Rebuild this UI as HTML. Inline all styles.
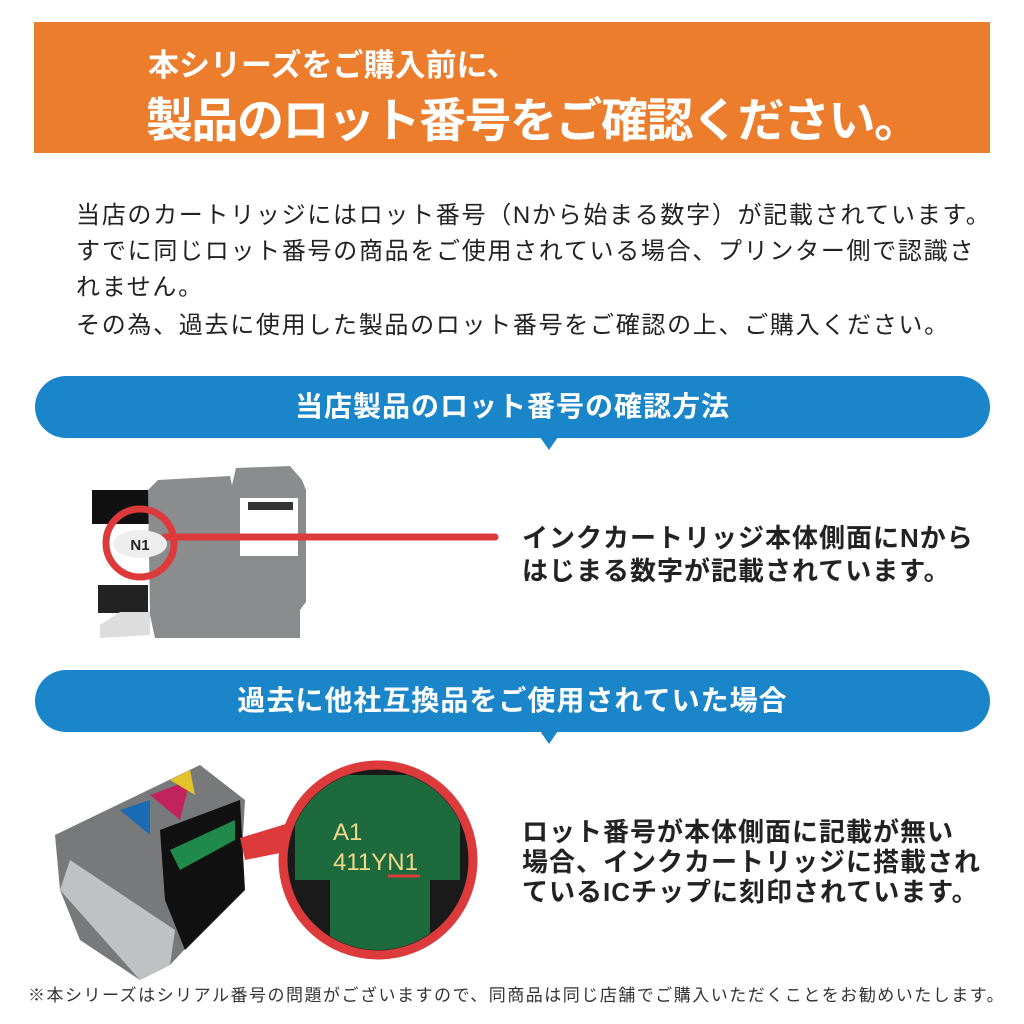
<!DOCTYPE html>
<html><head><meta charset="utf-8"><style>
body{margin:0;width:1024px;height:1024px;background:#fff;position:relative;overflow:hidden;font-family:"Liberation Sans","Noto Sans CJK JP",sans-serif;}
.a{position:absolute;white-space:nowrap;}
.pill{position:absolute;left:35px;width:955px;height:62px;background:#1a85c9;border-radius:31px;color:#fff;font-weight:bold;font-size:28px;text-align:center;line-height:62px;letter-spacing:1px;}
.pill:after{content:"";position:absolute;left:505px;bottom:-12px;border-left:9px solid transparent;border-right:9px solid transparent;border-top:13px solid #1a85c9;}
.body{font-size:24px;color:#222;letter-spacing:1.7px;}
.rt{font-size:26px;font-weight:bold;color:#222;letter-spacing:1px;}
</style></head><body>
<div class="a" style="left:34px;top:22px;width:956px;height:131px;background:#ec7d2c;"></div>
<div class="a" style="left:148px;top:40px;font-size:31px;font-weight:bold;color:#fff;">本シリーズをご購入前に、</div>
<div class="a" style="left:146px;top:82px;font-size:47px;font-weight:bold;color:#fff;letter-spacing:-1.5px;">製品のロット番号をご確認ください。</div>

<div class="a body" style="left:76px;top:195px;">当店のカートリッジにはロット番号（Nから始まる数字）が記載されています。</div>
<div class="a body" style="left:76px;top:231px;">すでに同じロット番号の商品をご使用されている場合、プリンター側で認識さ</div>
<div class="a body" style="left:76px;top:267px;">れません。</div>
<div class="a body" style="left:76px;top:305px;">その為、過去に使用した製品のロット番号をご確認の上、ご購入ください。</div>

<div class="pill" style="top:376px;">当店製品のロット番号の確認方法</div>
<div class="pill" style="top:670px;">過去に他社互換品をご使用されていた場合</div>

<svg class="a" style="left:0;top:440px" width="520" height="230">
<rect x="92" y="50" width="80" height="34" fill="#111"/>
<rect x="98" y="145" width="50" height="28" fill="#222"/>
<polygon points="100,185 120,172 150,172 150,195 100,198" fill="#ddd"/>
<polygon points="158,40 230,36 232,45 236,28 290,26 302,40 306,50 306,162 300,170 300,198 155,198 150,175 148,50" fill="#8b8c8e"/>
<rect x="240" y="58" width="58" height="58" fill="#fff"/>
<rect x="248" y="62" width="45" height="8" fill="#333"/>
<line x1="165" y1="97" x2="495" y2="97" stroke="#dd3a3c" stroke-width="7" stroke-linecap="round"/>
<ellipse cx="140" cy="104" rx="27" ry="14" fill="#eee"/>
<text x="140" y="110" font-size="15" font-weight="bold" text-anchor="middle" fill="#222" font-family="Liberation Sans">N1</text>
<circle cx="140" cy="103" r="34" fill="none" stroke="#dd3a3c" stroke-width="7"/>
</svg>
<div class="a rt" style="left:522px;top:518px;">インクカートリッジ本体側面にNから</div>
<div class="a rt" style="left:522px;top:551px;">はじまる数字が記載されています。</div>

<svg class="a" style="left:0;top:740px" width="520" height="250">
<polygon points="55,95 200,25 245,60 240,150 170,225 140,240 80,200 60,150" fill="#77797b"/>
<polygon points="60,150 140,240 170,225 175,190 70,120" fill="#bfc1c3"/>
<polygon points="150,55 190,40 180,80" fill="#c1245a"/>
<polygon points="170,40 190,30 195,55" fill="#e2c42a"/>
<polygon points="120,70 150,60 150,95" fill="#1c6bb5"/>
<polygon points="160,90 240,60 245,150 185,210 165,160" fill="#111"/>
<polygon points="170,110 235,80 235,100 180,130" fill="#1f8a4a"/>
<polygon points="240,98 315,75 320,105 245,120" fill="#dd3a3c"/>
<circle cx="378" cy="120" r="95" fill="#1a1a1a" stroke="#dd3a3c" stroke-width="9"/>
<clipPath id="c"><circle cx="378" cy="120" r="90"/></clipPath>
<g clip-path="url(#c)"><polygon points="295,35 460,35 460,140 430,140 430,220 330,220 330,140 295,140" fill="#1d6b3c"/></g>
<text x="333" y="100" font-size="24" fill="#f1d88a" font-family="Liberation Sans">A1</text>
<text x="333" y="130" font-size="24" fill="#f1d88a" font-family="Liberation Sans">411YN1</text>
<line x1="388" y1="136" x2="420" y2="136" stroke="#dd3a3c" stroke-width="3"/>
</svg>
<div class="a rt" style="left:522px;top:812px;font-size:26px;">ロット番号が本体側面に記載が無い</div>
<div class="a rt" style="left:522px;top:842px;font-size:26px;">場合、インクカートリッジに搭載され</div>
<div class="a rt" style="left:522px;top:872px;font-size:26px;">ているICチップに刻印されています。</div>

<div class="a" style="left:28px;top:981px;font-size:17px;color:#333;letter-spacing:1.5px;">※本シリーズはシリアル番号の問題がございますので、同商品は同じ店舗でご購入いただくことをお勧めいたします。</div>
</body></html>
